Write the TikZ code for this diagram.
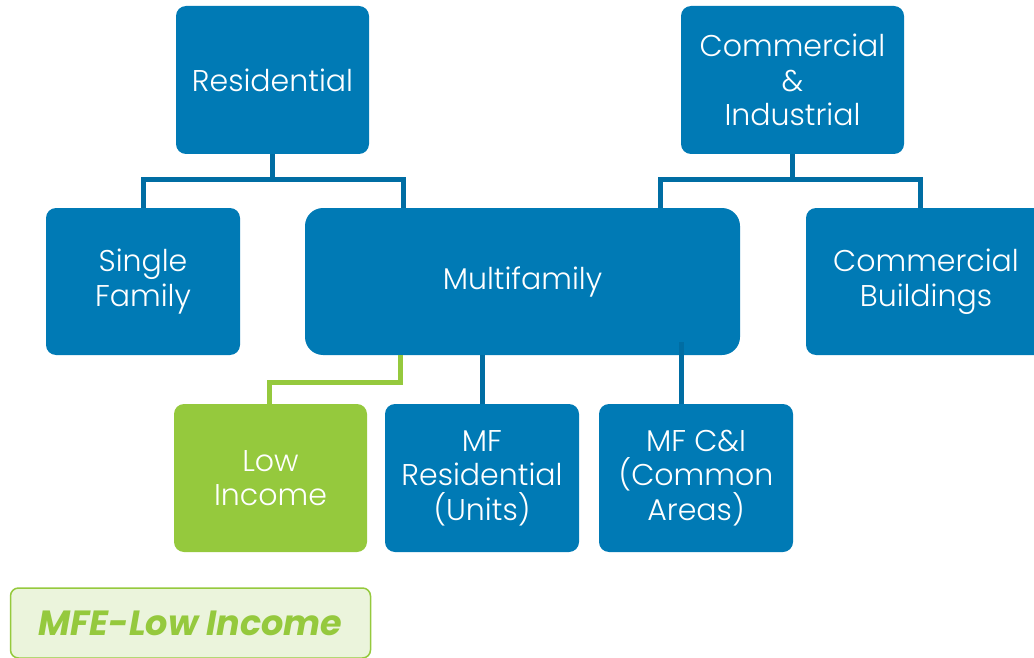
\documentclass[tikz,border=0pt]{standalone}
\usepackage{fontspec}
\setmainfont{Poppins Light}[BoldItalicFont={Poppins Bold Italic}]
\definecolor{boxblue}{HTML}{007AB5}
\definecolor{lineblue}{HTML}{006DA3}
\definecolor{lgreen}{HTML}{95C93D}
\definecolor{pgreen}{HTML}{EBF4DC}
\tikzset{
  box/.style={fill=boxblue, rounded corners=10pt, text=white, align=center,
    font=\fontsize{30}{34.5}\selectfont, inner sep=0pt},
  conn/.style={draw=lineblue, line width=5pt},
  gconn/.style={draw=lgreen, line width=5pt},
}
\begin{document}
\begin{tikzpicture}[x=1pt,y=-1pt]
\useasboundingbox (0,0) rectangle (1034,658);
\clip (0,0) rectangle (1034,658);
% nodes
\node[box, minimum width=193pt, minimum height=148pt] (res) at (272.5,80) {Residential};
\node[box, minimum width=223pt, minimum height=148pt] (ci) at (792.5,80) {Commercial\\\&\\Industrial};
\node[box, minimum width=194pt, minimum height=147pt] (sf) at (143,281.5) {Single\\Family};
\node[box, rounded corners=18pt, minimum width=435pt, minimum height=147pt] (mf) at (522.5,281.5) {Multifamily};
\node[box, minimum width=240pt, minimum height=147pt] (cb) at (926,281.5) {Commercial\\Buildings};
\node[box, fill=lgreen, minimum width=193pt, minimum height=148pt] (li) at (270.5,478) {Low\\Income};
\node[box, minimum width=194pt, minimum height=148pt] (mfr) at (482,478) {MF\\Residential\\(Units)};
\node[box, minimum width=194pt, minimum height=148pt] (mfc) at (696,478) {MF C\&I\\(Common\\Areas)};
% connectors
\coordinate (rj) at (272.5,180);
\coordinate (cj) at (792.5,180);
\draw[conn] (res.south) -- (rj);
\draw[conn] (rj) -| (sf.north);
\draw[conn] (rj) -| (403,208) coordinate (mfa);
\draw[conn] (ci.south) -- (cj);
\draw[conn] (cj) -| (660,208) coordinate (mfb);
\draw[conn] (cj) -| (920,208) coordinate (cba);
\draw[gconn] (400,355) coordinate (mfg) -- (400,382) -| (li.north -| 269,0);
\draw[conn] (mf.south -| mfr.north) -- (mfr.north);
\draw[conn] (681,342) coordinate (mfd) -- (mfc.north -| 681,0);
% legend
\node[draw=lgreen, line width=1.5pt, fill=pgreen, rounded corners=8pt,
  minimum width=360pt, minimum height=70pt, inner sep=0pt,
  text=lgreen, font=\fontsize{35}{40}\selectfont\bfseries\itshape] (leg) at (190.5,623) {MFE-Low Income};
\end{tikzpicture}
\end{document}
